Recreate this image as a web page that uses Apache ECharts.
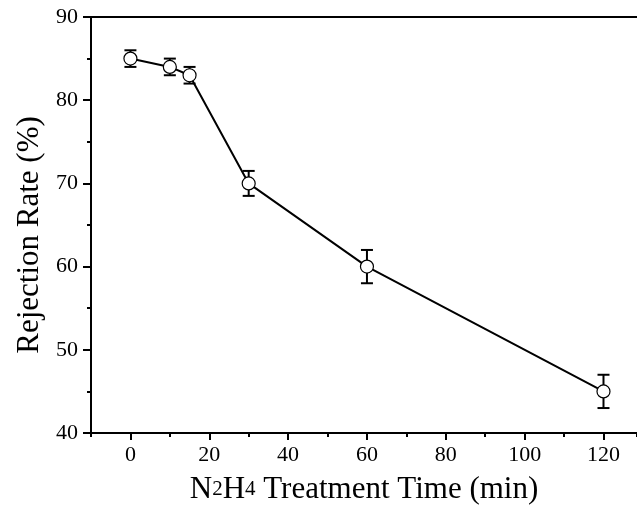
<!DOCTYPE html>
<html>
<head>
<meta charset="utf-8">
<script src="https://cdn.jsdelivr.net/npm/echarts@6/dist/echarts.min.js"></script>
<style>html,body{margin:0;padding:0;background:#fff}#c{width:637px;height:510px}</style>
</head>
<body>
<div id="c"></div>
<script>
const times = [0, 10, 15, 30, 60, 120];
const rejection = [85, 84, 83, 70, 60, 45];
const errors = [1, 1, 1, 1.5, 2, 2];
const xMajorTicks = [0, 20, 40, 60, 80, 100, 120];

const FONT = 'Liberation Serif';
const chart = echarts.init(document.getElementById('c'), null, {renderer: 'canvas'});
const lineData = times.map((t, i) => [t, rejection[i]]);
const errData = times.map((t, i) => [t, rejection[i] - errors[i], rejection[i] + errors[i]]);

chart.setOption({
  backgroundColor: '#fff',
  animation: false,
  grid: {left: 91, right: 0, top: 17, bottom: 77},
  xAxis: [
    {
      type: 'value', min: -10, max: 128.5, interval: 10, position: 'bottom',
      axisLine: {show: true, onZero: false, lineStyle: {color: '#000', width: 2}},
      axisTick: {show: true, length: 4, lineStyle: {color: '#000', width: 2}},
      axisLabel: {show: true, customValues: xMajorTicks, margin: 11, color: '#000', fontFamily: FONT, fontSize: 22},
      splitLine: {show: false},
      name: '{n|N}{s|2}{n|H}{s|4}{n| Treatment Time (min)}',
      nameLocation: 'middle', nameGap: 41,
      nameTextStyle: {
        color: '#000', fontFamily: FONT, fontSize: 31,
        rich: {
          n: {fontFamily: FONT, fontSize: 31, color: '#000'},
          s: {fontFamily: FONT, fontSize: 21, color: '#000'}
        }
      }
    },
    {
      type: 'value', min: -10, max: 128.5, position: 'bottom', gridIndex: 0,
      axisLine: {show: false},
      axisTick: {show: true, customValues: xMajorTicks, length: 7, lineStyle: {color: '#000', width: 2}},
      axisLabel: {show: false},
      splitLine: {show: false}
    },
    {
      type: 'value', min: -10, max: 128.5, position: 'top', gridIndex: 0,
      axisLine: {show: true, lineStyle: {color: '#000', width: 2}},
      axisTick: {show: false},
      axisLabel: {show: false},
      splitLine: {show: false}
    }
  ],
  yAxis: {
    type: 'value', min: 40, max: 90, interval: 10,
    axisLine: {show: true, onZero: false, lineStyle: {color: '#000', width: 2}},
    axisTick: {show: true, length: 8, lineStyle: {color: '#000', width: 2}},
    minorTick: {show: true, splitNumber: 2, length: 4, lineStyle: {color: '#000', width: 2}},
    axisLabel: {margin: 13, color: '#000', fontFamily: FONT, fontSize: 22},
    splitLine: {show: false},
    minorSplitLine: {show: false},
    name: 'Rejection Rate (%)',
    nameLocation: 'middle', nameGap: 46,
    nameTextStyle: {color: '#000', fontFamily: FONT, fontSize: 31, padding: [0, 20, 0, 0]}
  },
  series: [
    {
      type: 'custom',
      z: 1,
      data: errData,
      renderItem: function (params, api) {
        const x = api.value(0);
        const lo = api.coord([x, api.value(1)]);
        const hi = api.coord([x, api.value(2)]);
        const hw = 6;
        const style = {stroke: '#000', lineWidth: 2};
        return {
          type: 'group',
          children: [
            {type: 'line', shape: {x1: lo[0], y1: lo[1], x2: hi[0], y2: hi[1]}, style: style},
            {type: 'line', shape: {x1: lo[0] - hw, y1: lo[1], x2: lo[0] + hw, y2: lo[1]}, style: style},
            {type: 'line', shape: {x1: hi[0] - hw, y1: hi[1], x2: hi[0] + hw, y2: hi[1]}, style: style}
          ]
        };
      }
    },
    {
      type: 'line',
      z: 3,
      data: lineData,
      symbol: 'circle',
      symbolSize: 13,
      showAllSymbol: true,
      lineStyle: {color: '#000', width: 2},
      itemStyle: {color: '#fff', borderColor: '#000', borderWidth: 1.2}
    }
  ]
});
</script>
</body>
</html>
